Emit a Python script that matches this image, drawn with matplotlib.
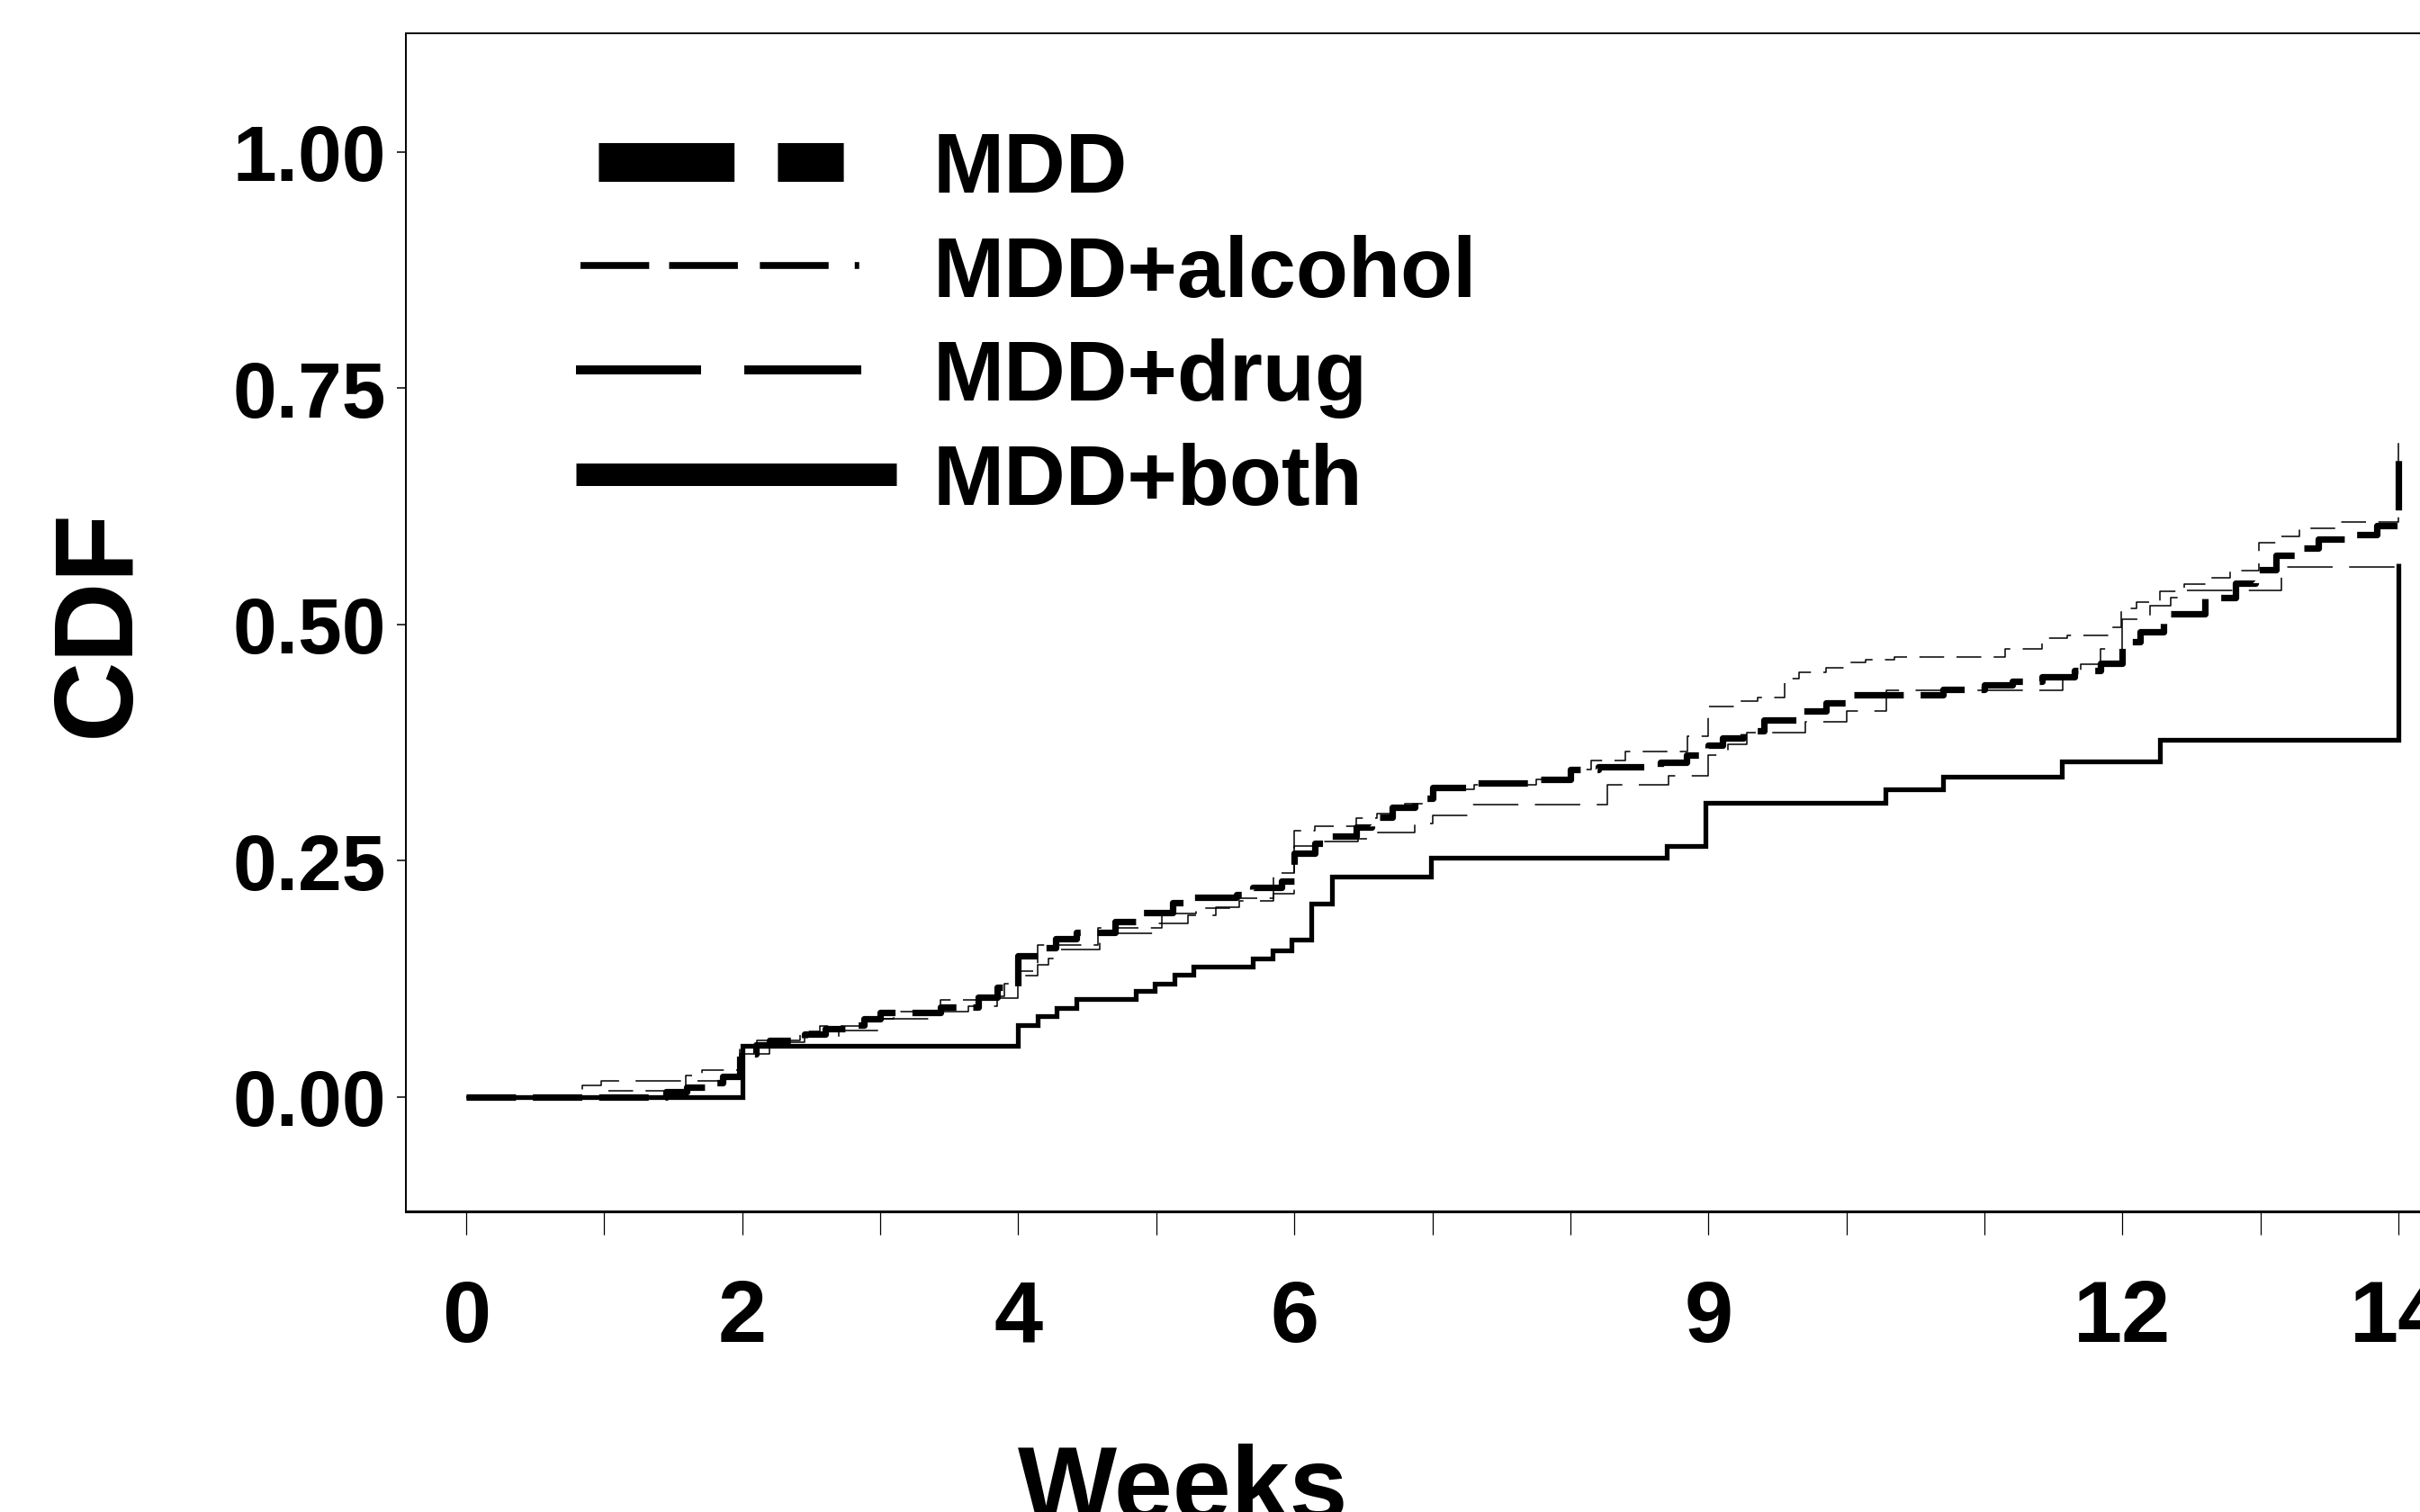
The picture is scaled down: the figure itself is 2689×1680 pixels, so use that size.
import matplotlib
matplotlib.use('Agg')
import matplotlib.pyplot as plt
from matplotlib.lines import Line2D

# ---------------- data ----------------
weeks_mdd = [0, 1.45, 1.6, 1.75, 1.86, 1.98, 2.1, 2.2, 2.45, 2.6, 2.75, 2.88, 3.0, 3.44, 3.71, 3.85,
             4.0, 4.15, 4.27, 4.42, 4.70, 4.85, 5.12, 5.27, 5.58, 5.70, 5.91, 6.0, 6.15, 6.26, 6.45,
             6.56, 6.71, 6.87, 7.0, 7.25, 7.75, 8.0, 8.2, 8.65, 8.84, 9.0, 9.1, 9.25, 9.40, 9.68,
             9.85, 10.0, 10.7, 11.0, 11.2, 11.42, 11.65, 11.84, 12.0, 12.13, 12.3, 12.6, 12.82,
             12.96, 13.11, 13.28, 13.42, 13.65, 13.84, 14.0]
cdf_mdd = [0, 0.005, 0.010, 0.015, 0.021, 0.045, 0.055, 0.060, 0.066, 0.072, 0.076, 0.082, 0.089,
           0.095, 0.105, 0.116, 0.149, 0.158, 0.167, 0.174, 0.185, 0.195, 0.205, 0.211, 0.214,
           0.222, 0.228, 0.258, 0.268, 0.276, 0.285, 0.296, 0.306, 0.316, 0.327, 0.332, 0.336,
           0.346, 0.349, 0.354, 0.362, 0.372, 0.380, 0.387, 0.399, 0.408, 0.417, 0.425, 0.431,
           0.436, 0.440, 0.444, 0.451, 0.459, 0.482, 0.492, 0.511, 0.528, 0.544, 0.558, 0.573,
           0.581, 0.590, 0.595, 0.605, 0.675]

weeks_alcohol = [0, 1.0, 1.59, 1.71, 1.98, 2.11, 2.42, 2.56, 2.9, 3.1, 3.44, 3.7, 3.9, 4.0, 4.14,
                 4.58, 5.04, 5.29, 5.55, 5.85, 6.0, 6.15, 6.45, 6.6, 6.8, 7.0, 7.3, 7.75, 8.0,
                 8.15, 8.4, 8.85, 9.0, 9.2, 9.36, 9.55, 9.66, 9.85, 9.99, 10.14, 10.35, 11.15,
                 11.42, 11.6, 11.89, 11.99, 12.1, 12.27, 12.45, 12.6, 12.78, 12.99, 13.14, 13.28,
                 13.55, 14.0]
cdf_alcohol = [0, 0.006, 0.022, 0.028, 0.052, 0.060, 0.069, 0.075, 0.082, 0.090, 0.102, 0.106,
               0.120, 0.133, 0.161, 0.179, 0.194, 0.200, 0.210, 0.237, 0.282, 0.286, 0.295,
               0.300, 0.310, 0.325, 0.330, 0.336, 0.346, 0.356, 0.365, 0.382, 0.413, 0.419,
               0.423, 0.443, 0.449, 0.454, 0.460, 0.463, 0.465, 0.474, 0.485, 0.488, 0.497,
               0.517, 0.524, 0.535, 0.543, 0.549, 0.557, 0.586, 0.593, 0.602, 0.608, 0.698]

weeks_drug = [0, 0.84, 0.98, 1.85, 1.98, 2.2, 2.45, 2.7, 3.0, 3.4, 3.64, 3.85, 4.0, 4.14, 4.22,
              4.28, 4.59, 5.0, 5.23, 5.43, 5.6, 5.85, 6.0, 6.2, 6.46, 6.58, 6.87, 7.0, 7.29,
              8.27, 8.71, 9.0, 9.14, 9.28, 9.7, 10.0, 10.29, 11.57, 11.7, 11.84, 12.0, 12.2,
              12.35, 12.45, 13.15, 14.0]
cdf_drug = [0, 0.012, 0.017, 0.021, 0.045, 0.058, 0.063, 0.070, 0.082, 0.090, 0.096, 0.104,
            0.128, 0.140, 0.146, 0.156, 0.173, 0.183, 0.192, 0.201, 0.207, 0.215, 0.265, 0.270,
            0.273, 0.280, 0.289, 0.298, 0.309, 0.330, 0.340, 0.362, 0.373, 0.385, 0.397, 0.408,
            0.430, 0.444, 0.458, 0.474, 0.505, 0.520, 0.528, 0.536, 0.561, 0.561]

weeks_both = [0, 2.0, 4.0, 4.14, 4.28, 4.42, 4.85, 4.99, 5.13, 5.27, 5.70, 5.84, 5.98, 6.12,
              6.27, 6.99, 8.70, 8.98, 10.28, 10.70, 11.56, 12.27, 14.0]
cdf_both = [0, 0.054, 0.076, 0.085, 0.094, 0.103, 0.112, 0.120, 0.129, 0.138, 0.146, 0.155,
            0.166, 0.204, 0.233, 0.253, 0.265, 0.311, 0.325, 0.339, 0.355, 0.378, 0.565]

series_labels = ['MDD', 'MDD+alcohol', 'MDD+drug', 'MDD+both']
xtick_positions = list(range(15))
xtick_labels = ['0', '', '2', '', '4', '', '6', '', '', '9', '', '', '12', '', '14']
ytick_values = [0.0, 0.25, 0.50, 0.75, 1.00]
ytick_labels = ['0.00', '0.25', '0.50', '0.75', '1.00']

# ---------------- figure ----------------
W, H = 2689, 1681
fig = plt.figure(figsize=(W / 100, H / 100), dpi=100)
ax_left, ax_right, ax_top, ax_bottom = 451, 2732, 37.7, 1346.5
ax = fig.add_axes([ax_left / W, (H - ax_bottom) / H, (ax_right - ax_left) / W,
                   (ax_bottom - ax_top) / H])

ax.step(weeks_both, cdf_both, where='post', color='black', lw=3.8,
        solid_joinstyle='miter', solid_capstyle='butt')
ax.step(weeks_drug, cdf_drug, where='post', color='black', lw=1.1,
        linestyle=(0, (33, 12)))
ax.step(weeks_alcohol, cdf_alcohol, where='post', color='black', lw=1.1,
        linestyle=(0, (18, 9)))
ax.step(weeks_mdd, cdf_mdd, where='post', color='black', lw=5.2,
        linestyle=(0, (7.6, 2.6)))

ax.set_xlim(-0.436, 14.436)
ax.set_ylim(-0.121, 1.126)

sans = ['Liberation Sans', 'DejaVu Sans']
ax.set_xticks(xtick_positions)
ax.set_xticklabels(xtick_labels, fontfamily=sans, fontweight='bold', fontsize=70)
ax.set_yticks(ytick_values)
ax.set_yticklabels(ytick_labels, fontfamily=sans, fontweight='bold', fontsize=63)
ax.tick_params(axis='x', direction='out', length=18.7, width=0.9, pad=35)
ax.tick_params(axis='y', direction='out', length=7.2, width=1.1, pad=8.5)

for s in ['left', 'top', 'right']:
    ax.spines[s].set_linewidth(1.4)
ax.spines['bottom'].set_linewidth(2.2)

ax.set_ylabel('CDF', fontfamily=sans, fontweight='bold', fontsize=89)
ax.yaxis.set_label_coords(-0.1236, 0.5)
ax.set_xlabel('Weeks', fontfamily=sans, fontweight='bold', fontsize=84)
ax.xaxis.set_label_coords(0.3788, -0.197)

# legend proxies (sample styles as drawn in the key)
handles = [
    Line2D([], [], color='black', lw=31, dash_capstyle='butt',
           linestyle=(10.74, (3.5, 1.12, 1.7, 5.0))),
    Line2D([], [], color='black', lw=5.5, dash_capstyle='butt',
           linestyle=(51.9, (10, 2.9, 10, 3.2, 10, 3.8, 0.65, 12))),
    Line2D([], [], color='black', lw=7.2, dash_capstyle='butt',
           linestyle=(0, (13.9, 4.8, 13.0, 20))),
    Line2D([], [], color='black', lw=18, solid_capstyle='butt'),
]
ax.legend(handles, series_labels, loc='upper left', bbox_to_anchor=(0.0829, 0.918),
          frameon=False, borderpad=0, borderaxespad=0, handlelength=3.75,
          handletextpad=0.42, labelspacing=0.28,
          prop={'family': sans, 'weight': 'bold', 'size': 68.4})

fig.savefig('out.png', dpi=100)
